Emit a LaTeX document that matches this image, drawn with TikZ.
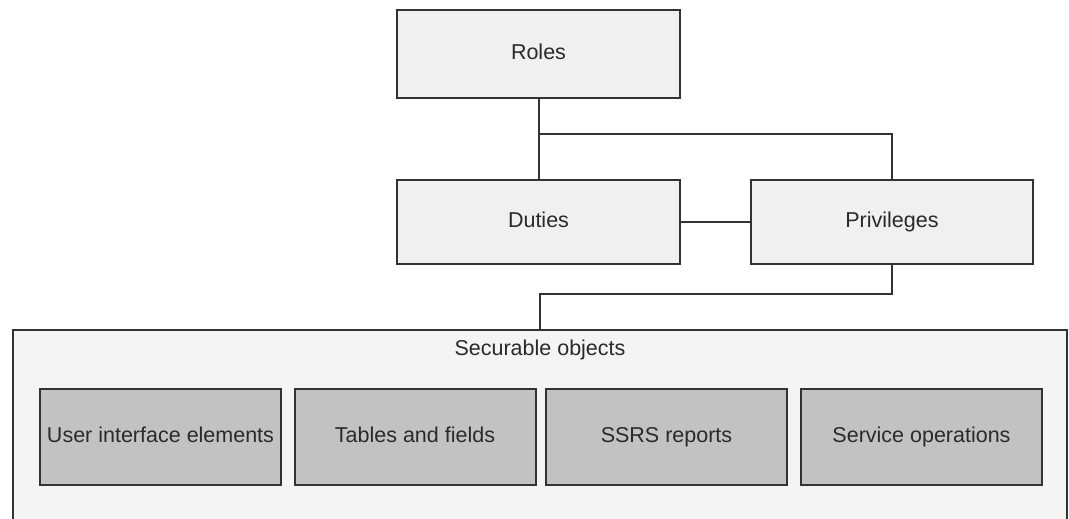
\documentclass[tikz,border=0pt]{standalone}
\usepackage{fontspec}
\setmainfont{Liberation Sans}
\begin{document}
\begin{tikzpicture}[x=1pt,y=-1pt,
  font=\fontsize{21.5}{25}\selectfont,
  lbl/.style={text=txtcol, text height=15.5pt, text depth=4.5pt, inner sep=0pt},
  lightbox/.style={lbl, draw=edgecol, line width=2pt, fill=lightfill,
    minimum width=283pt, minimum height=84pt},
  objbox/.style={lbl, draw=edgecol, line width=2pt, fill=objfill,
    minimum width=241pt, minimum height=96pt},
  conn/.style={draw=edgecol, line width=2pt}]
\definecolor{edgecol}{HTML}{333333}
\definecolor{txtcol}{HTML}{2A2A2A}
\definecolor{lightfill}{HTML}{F0F0F0}
\definecolor{objfill}{HTML}{C2C2C2}
\definecolor{outerfill}{HTML}{F4F4F4}
\useasboundingbox (0,0) rectangle (1069,519);
\clip (0,0) rectangle (1069,519);
\fill[white] (0,0) rectangle (1069,519);

% outer securable objects container
\node[fill=outerfill, minimum width=1054pt, minimum height=210pt, inner sep=0pt] (sec) at (540,435) {};
\draw[conn] (sec.south west) |- (sec.north east) -- (sec.south east);
\node[lbl, anchor=center] (sectitle) at (540,350) {Securable objects};

% top boxes
\node[lightbox, minimum height=88pt] (roles) at (538.5,54) {Roles};
\node[lightbox] (duties) at (538.5,221.5) {Duties};
\node[lightbox, minimum width=282pt] (priv) at (892,221.5) {Privileges};

% inner object boxes
\node[objbox] (ui) at (160.5,437) {User interface elements};
\node[objbox] (tables) at (415,437) {Tables and fields};
\node[objbox] (ssrs) at (666.5,437) {SSRS reports};
\node[objbox] (svc) at (921.5,437) {Service operations};

% connectors
\coordinate (j1) at (538.5,134);
\coordinate (j2) at (540,294);
\draw[conn] (roles.south) -- (duties.north);
\draw[conn] (j1) -| (priv.north);
\draw[conn] (duties.east) -- (priv.west);
\draw[conn] (priv.south) |- (j2) -- (sec.north);
\end{tikzpicture}
\end{document}
